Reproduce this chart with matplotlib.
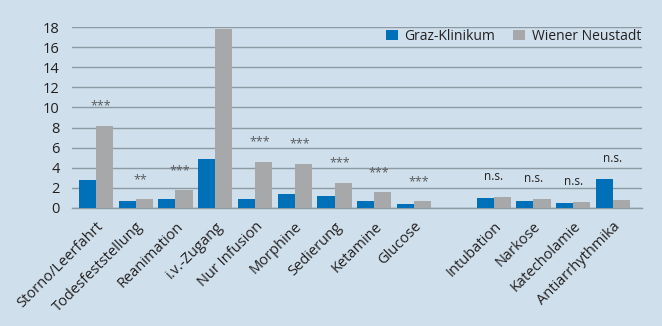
import numpy as np
import matplotlib.pyplot as plt
from matplotlib.transforms import ScaledTranslation

# data (empty string = gap between groups)
categories = ["Storno/Leerfahrt", "Todesfeststellung", "Reanimation", "i.v.-Zugang",
              "Nur Infusion", "Morphine", "Sedierung", "Ketamine", "Glucose", "",
              "Intubation", "Narkose", "Katecholamie", "Antiarrhythmika"]
graz = [2.8, 0.7, 0.9, 4.9, 0.9, 1.4, 1.2, 0.7, 0.4, np.nan, 1.0, 0.7, 0.5, 2.9]
wiener = [8.2, 0.9, 1.8, 17.8, 4.6, 4.4, 2.5, 1.6, 0.7, np.nan, 1.1, 0.9, 0.6, 0.8]
significance = ["***", "**", "***", "", "***", "***", "***", "***", "***", "",
                "n.s.", "n.s.", "n.s.", "n.s."]
y_ticks = [0, 2, 4, 6, 8, 10, 12, 14, 16, 18]

bg = "#cfe0ec"
blue = "#0071b9"
gray = "#a7a8aa"
text_col = "#231f20"

plt.rcParams['font.family'] = ['Open Sans', 'DejaVu Sans']

fig = plt.figure(figsize=(6.62, 3.26), dpi=100, facecolor=bg)
ax = fig.add_axes([0.1088, 0.362, 0.861, 0.555])
ax.set_facecolor(bg)

x = np.arange(len(categories))
w = 0.43
ax.bar(x - w / 2, graz, width=w, color=blue, label="Graz-Klinikum", zorder=3)
ax.bar(x + w / 2, wiener, width=w, color=gray, label="Wiener Neustadt", zorder=3)

# significance markers above each pair
for i, s in enumerate(significance):
    if not s:
        continue
    top = np.nanmax([graz[i], wiener[i]])
    if s.startswith("*"):
        ax.text(x[i] + 0.12, top + 1.3, s, ha="center", va="bottom",
                fontsize=9, color="#58595b", zorder=4)
    else:
        ax.text(x[i], top + 1.4, s, ha="center", va="bottom",
                fontsize=8.5, color=text_col, zorder=4)

ax.set_xlim(-0.6, len(categories) - 0.27)
ax.set_ylim(0, 18)
ax.set_yticks(y_ticks)
ax.yaxis.grid(True, color="#8e9aa3", linewidth=1.0, zorder=0)
ax.set_axisbelow(True)
for sp in ["top", "right", "left"]:
    ax.spines[sp].set_visible(False)
ax.spines["bottom"].set_color("#8e9aa3")
ax.spines["bottom"].set_linewidth(1.0)

ax.set_xticks(x)
ax.set_xticklabels(categories, rotation=45, ha="right", rotation_mode="anchor",
                   fontsize=10.5, color=text_col)
shift = ScaledTranslation(10 / 100, 0, fig.dpi_scale_trans)
for lbl in ax.get_xticklabels():
    lbl.set_transform(lbl.get_transform() + shift)
ax.tick_params(axis="x", length=0, pad=8)
ax.tick_params(axis="y", length=0, pad=9, labelsize=10.5, labelcolor=text_col)

leg = ax.legend(loc="upper right", ncol=2, frameon=False, fontsize=10,
                handlelength=0.8, handleheight=0.8, handletextpad=0.5,
                columnspacing=1.3, bbox_to_anchor=(1.02, 1.06), labelcolor=text_col)

fig.savefig("out.png", dpi=100, facecolor=bg)
